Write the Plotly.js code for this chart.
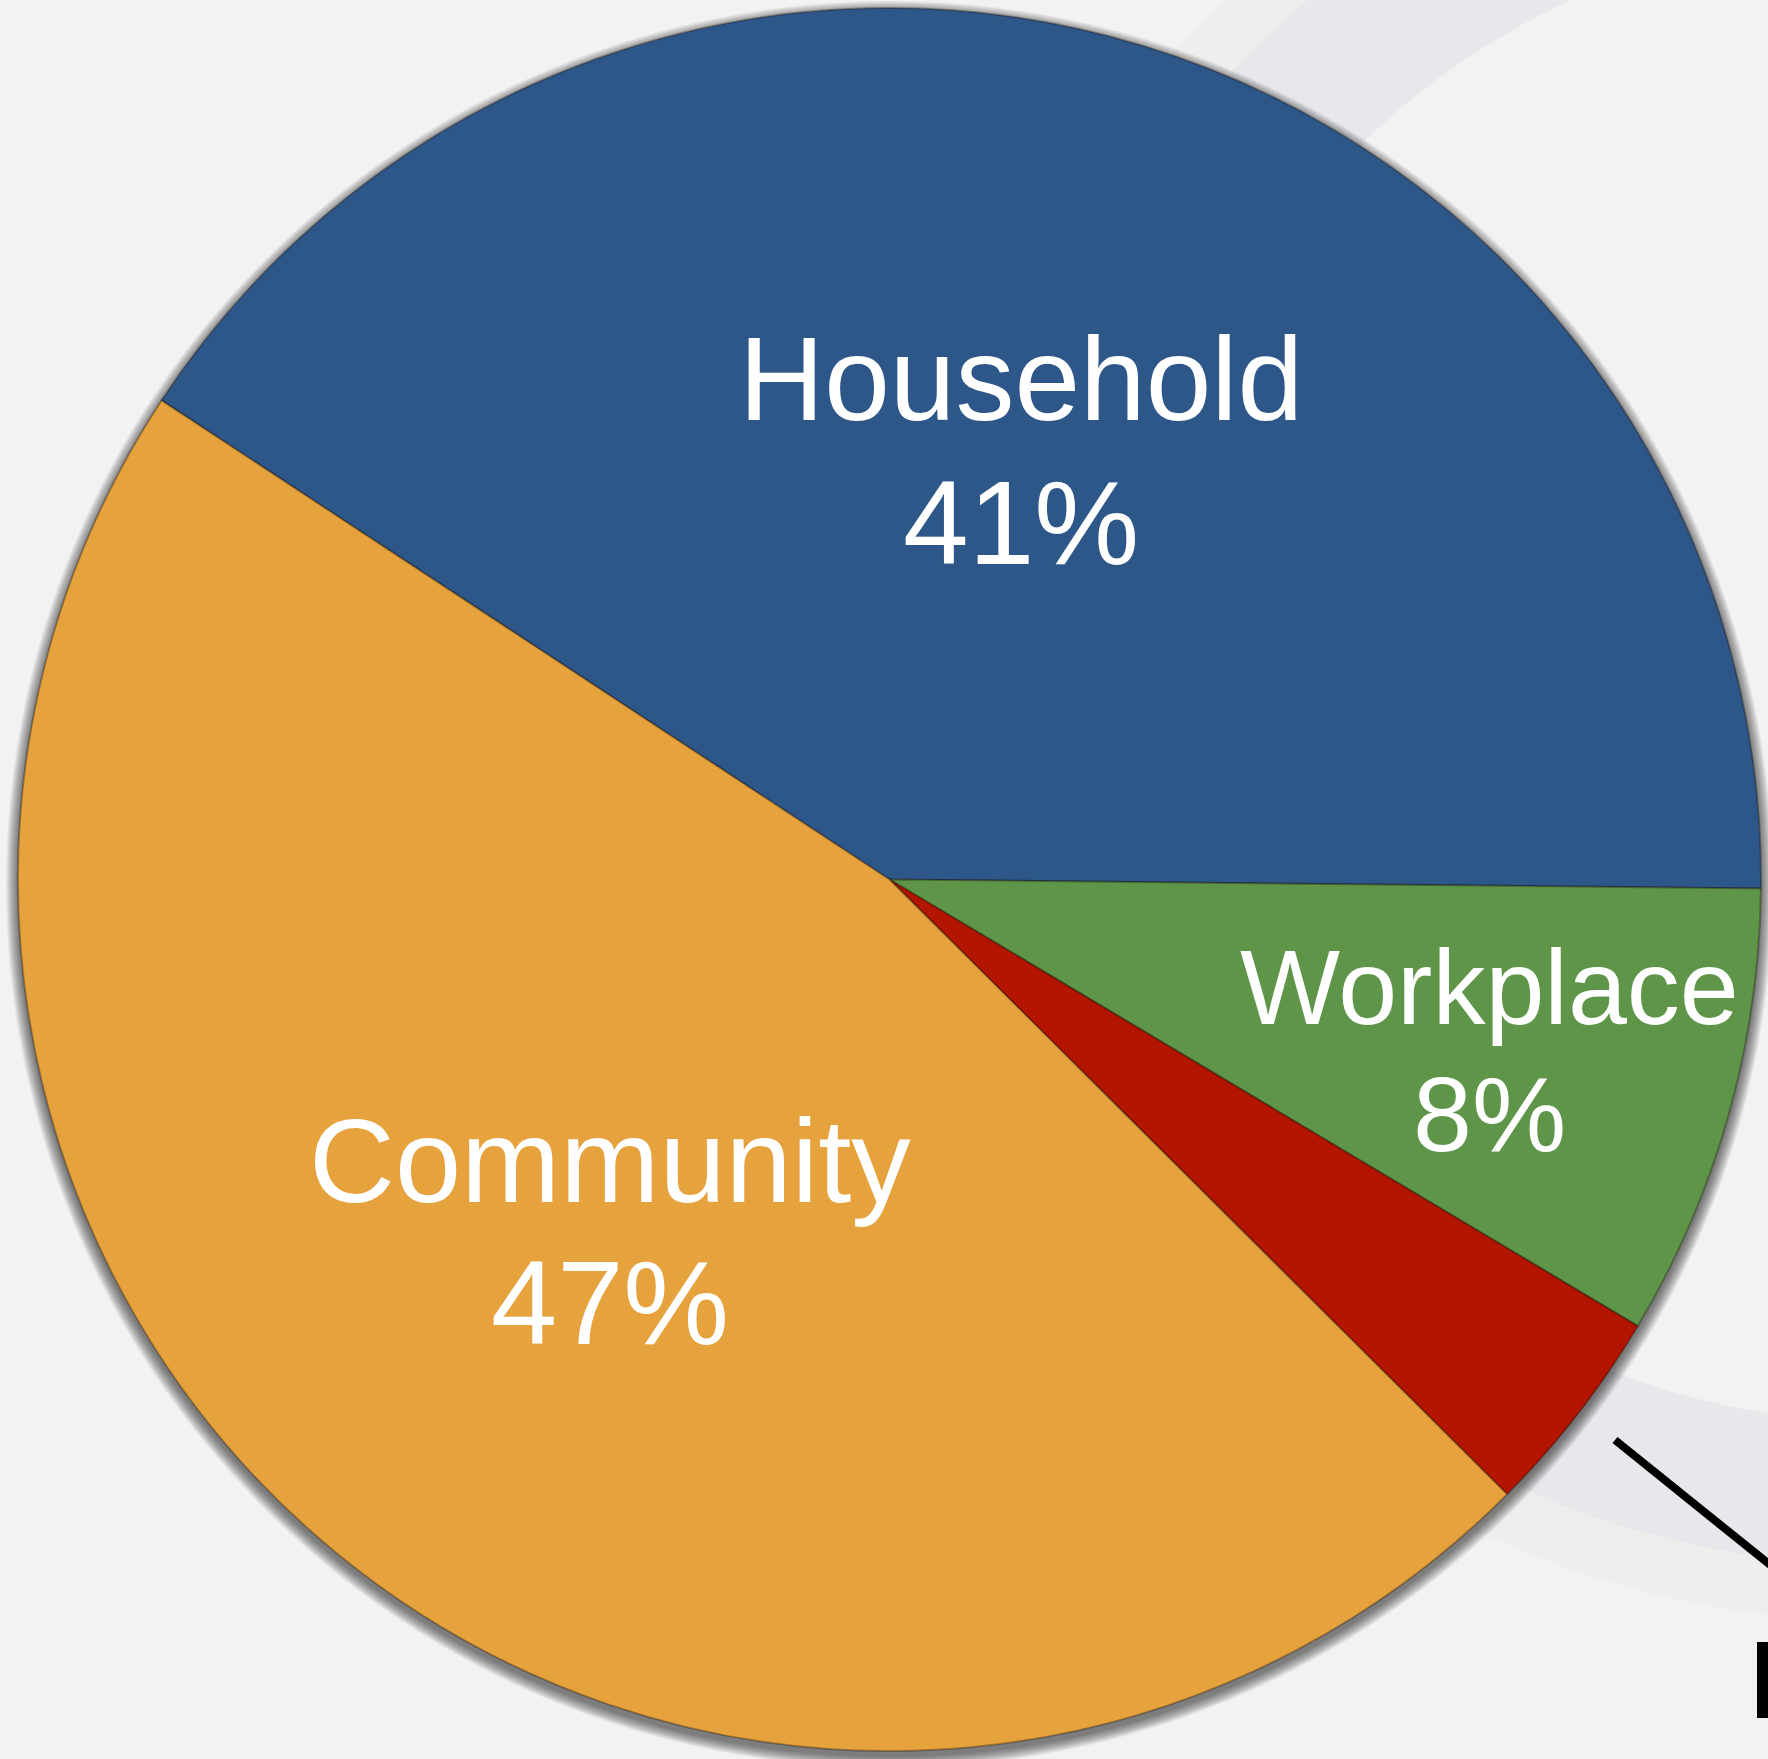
<!DOCTYPE html>
<html>
<head>
<meta charset="utf-8">
<script src="https://cdn.plot.ly/plotly-3.0.1.min.js"></script>
<style>
  html, body { margin: 0; padding: 0; background: #f2f2f2; }
  #plot { width: 1768px; height: 1759px; }
</style>
</head>
<body>
<div id="plot"></div>
<script>
// share of cases by setting
const labels = ["Household", "Workplace", "Other", "Community"];
const values = [40.9, 8.4, 3.9, 46.8];
const colors = ["#2e5789", "#5e9548", "#b31500", "#e6a23c"];
const showLabel = [true, true, false, true];

const W = 1768, H = 1759;
// pie centre and radius in pixels
const cx = 889.5, cy = 879.5, R = 871.5;

const px = x => x / W;
const py = y => 1 - y / H;

const total = values.reduce((a, b) => a + b, 0);
const pct = v => Math.round(100 * v / total) + "%";

const trace = {
  type: "pie",
  labels: labels,
  values: values,
  sort: false,
  direction: "clockwise",
  rotation: -56.65,
  textinfo: "none",
  hoverinfo: "skip",
  marker: { colors: colors, line: { color: "rgba(20,10,0,0.3)", width: 2 } },
  domain: { x: [px(cx - R), px(cx + R)], y: [py(cy + R), py(cy - R)] },
  showlegend: false
};

// label placement, pixel centres of each text line
const labelPos = {
  Household: { x: 1021, y1: 376, y2: 522, size: 118 },
  Workplace: { x: 1489, y1: 984, y2: 1113, size: 106 },
  Community: { x: 610, y1: 1157, y2: 1301, size: 119 }
};

const annotations = [];
labels.forEach((lab, i) => {
  if (!showLabel[i]) return;
  const p = labelPos[lab];
  const f = { family: "Liberation Sans, Arial, sans-serif", size: p.size, color: "#ffffff" };
  annotations.push({ xref: "paper", yref: "paper", x: px(p.x), y: py(p.y1 + 3), text: lab,
    showarrow: false, xanchor: "center", yanchor: "middle", font: f });
  annotations.push({ xref: "paper", yref: "paper", x: px(p.x), y: py(p.y2 + 1), text: pct(values[i]),
    showarrow: false, xanchor: "center", yanchor: "middle", font: f });
});

function circle(x, y, r, fill) {
  return { type: "circle", xref: "paper", yref: "paper", layer: "below",
    x0: px(x - r), x1: px(x + r), y0: py(y + r), y1: py(y - r),
    fillcolor: fill, line: { width: 0 } };
}

const shapes = [];
// faint seal in the background
shapes.push(circle(1882, 677, 945, "#eeeeec"));
shapes.push(circle(1882, 677, 888, "#e6e8eb"));
shapes.push(circle(1882, 677, 745, "#f2f2f2"));
// soft drop shadow under the pie
for (let k = 12; k >= 1; k--) {
  shapes.push(circle(cx, cy + 5, R + k, "rgba(0,0,0,0.05)"));
}
// pointer line and letter stem at the lower right
shapes.push({ type: "line", xref: "paper", yref: "paper", layer: "above",
  x0: px(1615), y0: py(1440), x1: px(1800), y1: py(1589),
  line: { color: "#000000", width: 8 } });
shapes.push({ type: "rect", xref: "paper", yref: "paper", layer: "above",
  x0: px(1757), x1: px(1775), y0: py(1718), y1: py(1642),
  fillcolor: "#000000", line: { width: 0 } });

const layout = {
  width: W,
  height: H,
  margin: { l: 0, r: 0, t: 0, b: 0 },
  paper_bgcolor: "#f2f2f2",
  plot_bgcolor: "#f2f2f2",
  shapes: shapes,
  annotations: annotations
};

Plotly.newPlot("plot", [trace], layout, { displayModeBar: false, staticPlot: true });
</script>
</body>
</html>
